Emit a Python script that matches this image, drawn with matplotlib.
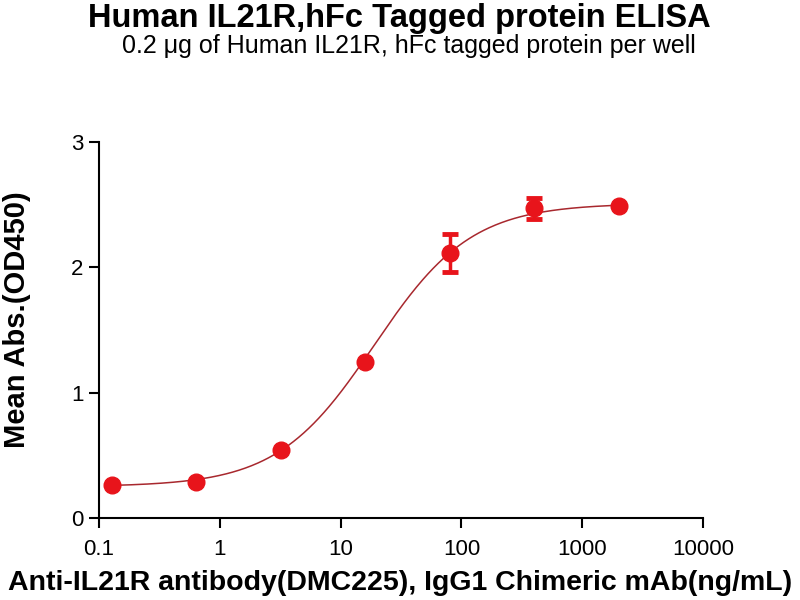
import numpy as np
import matplotlib
matplotlib.use("Agg")
import matplotlib.pyplot as plt

plt.rcParams['font.family'] = ['Liberation Sans', 'DejaVu Sans']

# Data
conc = [0.128, 0.64, 3.2, 16, 80, 400, 2000]
od = [0.26, 0.285, 0.545, 1.245, 2.115, 2.47, 2.49]
err = [0.0, 0.0, 0.0, 0.0, 0.15, 0.085, 0.0]

# 4PL fit parameters (estimated from the curve)
fit_bottom = 0.25
fit_top = 2.51
fit_ec50 = 19.0
fit_hill = 1.08

xticks = [0.1, 1, 10, 100, 1000, 10000]
xticklabels = ['0.1', '1', '10', '100', '1000', '10000']
yticks = [0, 1, 2, 3]

title = 'Human IL21R,hFc Tagged protein ELISA'
subtitle = '0.2 \u03bcg of Human IL21R, hFc tagged protein per well'
xlabel = 'Anti-IL21R antibody(DMC225), IgG1 Chimeric mAb(ng/mL)'
ylabel = 'Mean Abs.(OD450)'

red = '#e8141b'

fig = plt.figure(figsize=(8, 6), dpi=100)
ax = fig.add_axes([99/800, 1-518/600, (703-99)/800, (518-142)/600])

xs = np.logspace(np.log10(0.128), np.log10(2000), 400)
ys = fit_bottom + (fit_top - fit_bottom) / (1 + (fit_ec50 / xs) ** fit_hill)
ax.plot(xs, ys, color='#a8282e', lw=1.1, zorder=2)

ax.errorbar(conc, od, yerr=err, fmt='o', color=red, ms=12, capsize=6,
            elinewidth=2.5, capthick=3.5, zorder=3)

ax.set_xscale('log')
ax.set_xlim(0.1, 10000)
ax.set_ylim(0, 3)
ax.set_xticks(xticks)
ax.set_xticklabels(xticklabels)
ax.xaxis.set_minor_locator(matplotlib.ticker.NullLocator())
ax.set_yticks(yticks)
ax.tick_params(axis='both', direction='out', length=7, width=1.5, labelsize=16, pad=4, color='black')
ax.tick_params(axis='x', pad=8)
for s in ['top', 'right']:
    ax.spines[s].set_visible(False)
for s in ['left', 'bottom']:
    ax.spines[s].set_linewidth(1.5)

fig.text(400/800, 1-583/600, xlabel, ha='center', va='center', fontsize=20.5, fontweight='bold')
fig.text(17/800, 1-320/600, ylabel, ha='center', va='center', rotation=90, fontsize=21, fontweight='bold')

fig.text(399/800, 1-19/600, title, ha='center', va='center', fontsize=23.5, fontweight='bold')
fig.text(409/800, 1-46/600, subtitle, ha='center', va='center', fontsize=18)

fig.savefig('out.png', dpi=100)
